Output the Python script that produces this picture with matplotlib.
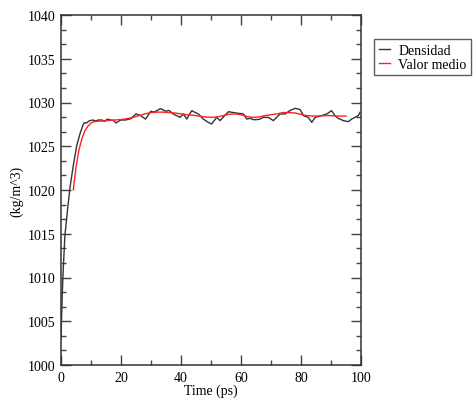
import matplotlib
matplotlib.use("Agg")
import matplotlib.pyplot as plt
from matplotlib.ticker import MultipleLocator

plt.rcParams['font.family'] = ['Liberation Serif', 'DejaVu Serif']

# Density trace (ps, kg/m^3)
time_ps = [0.0, 0.2, 0.45, 0.8, 1.3, 2.2, 3.0, 4.1, 5.2, 6.3, 7.3, 7.8, 8.5, 9.4,
           10.5, 11.5, 12.5, 13.6, 14.5, 15.5, 16.5, 17.5, 18.3, 19.2, 20.0, 21.5,
           23.3, 25.0, 26.5, 28.2, 29.9, 31.0, 33.2, 35.0, 36.0, 37.4, 38.5, 39.7,
           40.8, 41.9, 43.6, 44.5, 45.8, 47.4, 49.1, 50.2, 51.9, 53.0, 55.8, 57.5,
           59.1, 60.8, 61.9, 63.0, 64.1, 65.2, 66.3, 67.4, 69.1, 70.8, 73.0, 74.7,
           76.3, 78.0, 79.7, 80.8, 82.4, 83.6, 84.7, 86.9, 88.6, 90.2, 91.3, 92.4,
           94.1, 95.8, 96.9, 98.0, 99.1, 99.7]
density = [1003.0, 1005.5, 1008.3, 1011.3, 1014.8, 1017.8, 1020.3, 1022.8, 1025.0,
           1026.4, 1027.4, 1027.7, 1027.65, 1027.9, 1028.0, 1027.9, 1028.0, 1028.0,
           1027.85, 1028.1, 1028.0, 1027.95, 1027.66, 1027.85, 1028.0, 1028.0,
           1028.15, 1028.7, 1028.5, 1028.1, 1029.0, 1028.9, 1029.3, 1029.0, 1029.1,
           1028.69, 1028.5, 1028.31, 1028.69, 1028.11, 1029.07, 1028.9, 1028.69,
           1028.11, 1027.73, 1027.54, 1028.31, 1027.93, 1028.95, 1028.85, 1028.76,
           1028.69, 1028.11, 1028.19, 1028.04, 1028.04, 1028.1, 1028.3, 1028.3,
           1027.93, 1028.69, 1028.69, 1029.07, 1029.33, 1029.2, 1028.5, 1028.3,
           1027.73, 1028.3, 1028.5, 1028.69, 1029.07, 1028.5, 1028.19, 1027.93,
           1027.81, 1028.11, 1028.3, 1028.5, 1028.88]

# Running mean
mean_time = [4.1, 5, 6, 7, 8, 9, 10, 11, 12, 14, 16, 18, 20, 22, 24, 26, 28, 30, 32,
             34, 36, 38, 40, 42, 44, 46, 48, 50, 52, 54, 56, 58, 60, 62, 64, 66, 68,
             70, 72, 74, 76, 78, 80, 82, 84, 86, 88, 90, 92, 94, 95]
mean_density = [1020.0, 1022.6, 1024.6, 1025.9, 1026.8, 1027.3, 1027.65, 1027.8,
                1027.85, 1027.9, 1027.95, 1028.0, 1028.05, 1028.15, 1028.3, 1028.5,
                1028.7, 1028.85, 1028.9, 1028.9, 1028.85, 1028.8, 1028.7, 1028.6,
                1028.55, 1028.45, 1028.35, 1028.3, 1028.35, 1028.5, 1028.65, 1028.7,
                1028.6, 1028.4, 1028.3, 1028.35, 1028.5, 1028.6, 1028.7, 1028.85,
                1028.85, 1028.8, 1028.65, 1028.5, 1028.45, 1028.45, 1028.5, 1028.5,
                1028.45, 1028.45, 1028.45]

series_labels = ["Densidad", "Valor medio"]

fig = plt.figure(figsize=(4.76, 4.02), dpi=100)
ax = fig.add_axes([61 / 476, 1 - 366 / 402, 300 / 476, 350 / 402])

ax.plot(time_ps, density, color='#333333', lw=1.0, label=series_labels[0])
ax.plot(mean_time, mean_density, color='#ff2020', lw=1.0, label=series_labels[1])

ax.set_xlim(0, 100)
ax.set_ylim(1000, 1040)
ax.xaxis.set_major_locator(MultipleLocator(20))
ax.xaxis.set_minor_locator(MultipleLocator(10))
ax.yaxis.set_major_locator(MultipleLocator(5))
ax.yaxis.set_minor_locator(MultipleLocator(5 / 3))
ax.tick_params(which='both', direction='in', top=True, right=True,
               labelsize=10, width=1.0, color='#444444')
ax.tick_params(which='major', length=7, pad=4)
ax.tick_params(which='minor', length=3.5)
for sp in ax.spines.values():
    sp.set_linewidth(1.1)
    sp.set_color('#333333')

ax.set_xlabel("Time (ps)", fontsize=10, labelpad=0)
ax.set_ylabel("(kg/m^3)", fontsize=10, labelpad=3)

leg = fig.legend(loc='upper left', bbox_to_anchor=(374 / 476, 1 - 40 / 402),
                 fontsize=10, frameon=True, fancybox=False, handlelength=0.8,
                 handletextpad=0.6, borderpad=0.35, labelspacing=0.05,
                 borderaxespad=0)
leg.get_frame().set_edgecolor('#333333')
leg.get_frame().set_linewidth(1.0)

fig.savefig("out.png", dpi=100)
